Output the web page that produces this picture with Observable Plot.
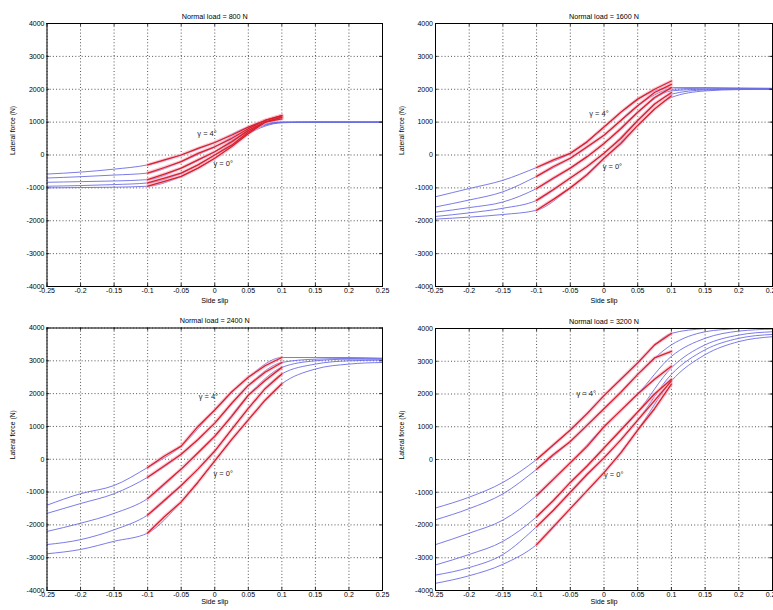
<!DOCTYPE html>
<html><head><meta charset="utf-8">
<script src="https://cdn.jsdelivr.net/npm/d3@7"></script>
<script src="https://cdn.jsdelivr.net/npm/@observablehq/plot@0.6"></script>
<style>
body{margin:0;background:#fff;overflow:hidden}
#wrap{position:relative;width:773px;height:610px;overflow:hidden;font-family:"Liberation Sans",Arial,sans-serif;background:#fff}
.panel{position:absolute}
.panel svg{overflow:visible}
</style></head><body><div id="wrap"></div>
<script>
// ---- data ----
const slipFit = [-0.25,-0.2,-0.15,-0.1,-0.05,0,0.05,0.1,0.15,0.2,0.25];
const slipTest = [-0.1,-0.075,-0.05,-0.025,0,0.025,0.05,0.075,0.1];
const xTicks = [-0.25,-0.2,-0.15,-0.1,-0.05,0,0.05,0.1,0.15,0.2,0.25];
const yTicks = [-4000,-3000,-2000,-1000,0,1000,2000,3000,4000];
const loads = [800,1600,2400,3200];

// fitted curves (blue), one row per camber angle, top (4°) to bottom (0°)
const fit800 = [
  [-580,-520,-430,-300,0,380,850,1000,1000,1000,1000],
  [-700,-660,-610,-550,-200,250,800,1000,1000,1000,1000],
  [-830,-810,-790,-750,-400,100,750,990,1000,1000,1000],
  [-950,-930,-900,-850,-550,0,700,990,1000,1000,1000],
  [-1000,-990,-980,-950,-650,-100,650,980,1000,1000,1000]
];
const fit1600 = [
  [-1270,-1020,-770,-380,50,850,1700,2050,2050,2040,2030],
  [-1580,-1370,-1120,-650,-100,600,1500,2000,2030,2020,2020],
  [-1740,-1600,-1430,-1020,-400,350,1300,1950,2000,2010,2010],
  [-1870,-1760,-1620,-1380,-700,50,1050,1850,1980,2000,2000],
  [-1950,-1890,-1810,-1680,-1000,-100,900,1750,1950,1990,2000]
];
const fit2400 = [
  [-1400,-1050,-800,-250,400,1500,2500,3100,3100,3100,3080],
  [-1650,-1350,-1050,-550,150,1100,2250,2950,3050,3070,3060],
  [-2200,-1950,-1650,-1200,-300,700,1950,2800,3000,3050,3050],
  [-2600,-2450,-2150,-1700,-800,250,1550,2600,2900,3000,3020],
  [-2880,-2750,-2500,-2250,-1300,-50,1200,2300,2750,2900,2950]
];
const fit3200 = [
  [-1480,-1150,-700,0,900,1950,2950,3850,4000,4050,4100],
  [-1840,-1500,-1050,-300,550,1550,2600,3500,3900,4000,4050],
  [-2600,-2250,-1850,-1100,-100,1000,2000,3150,3700,3920,3980],
  [-3220,-2900,-2500,-1750,-700,350,1450,2800,3500,3800,3900],
  [-3530,-3300,-2900,-2050,-1000,50,1200,2600,3350,3700,3820],
  [-3780,-3550,-3200,-2600,-1500,-400,900,2400,3200,3600,3750]
];

// measured curves (red)
const test800 = [
  [-300,-150,0,200,380,600,850,1050,1200],
  [-550,-380,-200,50,250,500,800,1050,1200],
  [-750,-580,-400,-150,100,400,750,1000,1150],
  [-850,-700,-550,-300,0,300,700,1000,1150],
  [-950,-800,-650,-400,-100,250,650,1000,1100]
];
const test1600 = [
  [-380,-150,50,400,850,1300,1700,2000,2250],
  [-650,-350,-100,250,600,1050,1500,1900,2150],
  [-1020,-700,-400,-50,350,800,1300,1750,2050],
  [-1380,-1050,-700,-350,50,500,1050,1550,1900],
  [-1680,-1350,-1000,-600,-100,350,900,1400,1800]
];
const test2400 = [
  [-250,100,400,1000,1500,2050,2500,2850,3100],
  [-550,-200,150,600,1100,1700,2250,2650,2950],
  [-1200,-750,-300,200,700,1300,1950,2400,2800],
  [-1700,-1250,-800,-300,250,900,1550,2150,2600],
  [-2250,-1750,-1300,-700,-50,600,1200,1800,2300]
];
const test3200 = [
  [0,450,900,1400,1950,2450,2950,3500,3850],
  [-300,150,550,1050,1550,2050,2600,3100,3300],
  [-1100,-600,-100,400,1000,1500,2000,2450,2850],
  [-1750,-1250,-700,-200,350,900,1450,2000,2450],
  [-2050,-1550,-1000,-450,50,600,1200,1800,2400],
  [-2600,-2050,-1500,-950,-400,200,900,1550,2300]
];

// camber annotations
const camberHiX = [0.003, 0.007, 0.005, -0.012];
const camberHiY = [650, 1250, 1920, 2000];
const camberLoX = [-0.002, -0.002, -0.002, 0.0];
const camberLoY = [-270, -350, -450, -450];

const fits = [fit800, fit1600, fit2400, fit3200];
const tests = [test800, test1600, test2400, test3200];

// ---- layout ----
const boxes = [
  {left:0,   top:0,   ml:46.5, mr:4, mt:23,   mb:19, lab:16.5},
  {left:387, top:0,   ml:48,   mr:1, mt:23,   mb:19, lab:16.5},
  {left:0,   top:305, ml:46.5, mr:4, mt:22.5, mb:20, lab:13},
  {left:387, top:305, ml:48,   mr:1, mt:23,   mb:20, lab:13}
];

const font = "Liberation Sans, Arial, Helvetica, sans-serif";
const wrap = document.getElementById("wrap");

loads.forEach((load, p) => {
  const b = boxes[p];
  const blueRows = fits[p].flatMap((ys, i) => ys.map((y, j) => ({x: slipFit[j], y, c: i})));
  const redRows = tests[p].flatMap((ys, i) => ys.map((y, j) => ({x: slipTest[j], y, c: i})));
  const tick = 90; // inward tick length in N (~3px)
  const tickX = 0.004;
  const svg = Plot.plot({
    width: 386, height: 305,
    marginLeft: b.ml, marginRight: b.mr, marginTop: b.mt, marginBottom: b.mb,
    style: {fontFamily: font, fontSize: "7px", background: "transparent", color: "#000", overflow: "visible"},
    x: {domain: [xTicks[0], xTicks[xTicks.length-1]], label: null},
    y: {domain: [yTicks[0], yTicks[yTicks.length-1]], label: null},
    marks: [
      Plot.gridX(xTicks, {stroke: "#000", strokeOpacity: 0.85, strokeDasharray: "1,2.2", strokeWidth: 0.8}),
      Plot.gridY(yTicks, {stroke: "#000", strokeOpacity: 0.85, strokeDasharray: "1,2.2", strokeWidth: 0.8}),
      Plot.line(blueRows, {x: "x", y: "y", z: "c", stroke: "#6c6ce4", strokeWidth: 0.9, curve: "monotone-x", clip: true}),
      Plot.line(redRows, {x: "x", y: "y", z: "c", stroke: "#f6a3b6", strokeWidth: 3.6, strokeOpacity: 0.55, clip: true}),
      Plot.line(redRows, {x: "x", y: "y", z: "c", stroke: "#d9202c", strokeWidth: 1.3, clip: true}),
      Plot.ruleX(xTicks, {y1: yTicks[0], y2: yTicks[0] + tick, stroke: "#000", strokeWidth: 0.8}),
      Plot.ruleX(xTicks, {y1: yTicks[yTicks.length-1], y2: yTicks[yTicks.length-1] - tick, stroke: "#000", strokeWidth: 0.8}),
      Plot.ruleY(yTicks, {x1: xTicks[0], x2: xTicks[0] + tickX, stroke: "#000", strokeWidth: 0.8}),
      Plot.ruleY(yTicks, {x1: xTicks[xTicks.length-1], x2: xTicks[xTicks.length-1] - tickX, stroke: "#000", strokeWidth: 0.8}),
      Plot.frame({stroke: "#000", strokeWidth: 1}),
      Plot.axisX(xTicks, {tickSize: 0, tickPadding: 1.5, tickFormat: d => String(d), fontSize: 7, label: null}),
      Plot.axisY(yTicks, {tickSize: 0, tickPadding: 2.5, tickFormat: d => String(d), fontSize: 7, label: null}),
      Plot.text([`Normal load = ${load} N`], {frameAnchor: "top", dy: -10, fontSize: 7.2}),
      Plot.text(["Side slip"], {frameAnchor: "bottom", dy: b.lab, fontSize: 7.2}),
      Plot.text(["Lateral force (N)"], {frameAnchor: "left", dx: -34, rotate: -90, fontSize: 6.8}),
      Plot.text([{x: camberHiX[p], y: camberHiY[p]}], {x: "x", y: "y", text: () => "γ = 4°", textAnchor: "end", fontSize: 7.5, fill: "#222"}),
      Plot.text([{x: camberLoX[p], y: camberLoY[p]}], {x: "x", y: "y", text: () => "γ = 0°", textAnchor: "start", fontSize: 7.5, fill: "#222"})
    ]
  });
  const div = document.createElement("div");
  div.className = "panel";
  div.style.left = b.left + "px";
  div.style.top = b.top + "px";
  div.appendChild(svg);
  wrap.appendChild(div);
});
</script>
</body></html>
